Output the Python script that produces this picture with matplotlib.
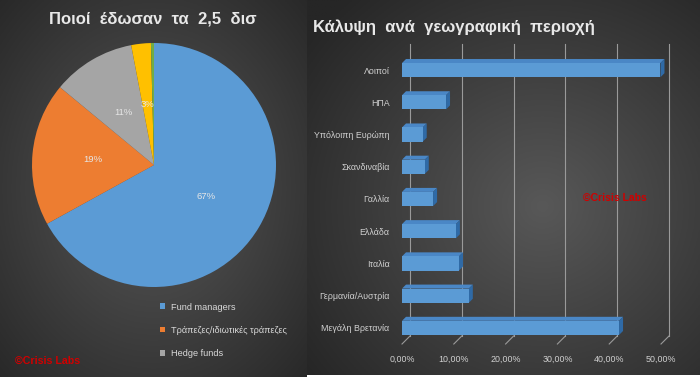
import numpy as np
import matplotlib
matplotlib.use("Agg")
import matplotlib.pyplot as plt
from matplotlib.patches import Polygon, Patch
from matplotlib.ticker import FuncFormatter

plt.rcParams['font.family'] = ['Liberation Sans', 'DejaVu Sans']

# --- data: pie ---
pie_labels = ['Fund managers', 'Τράπεζες/ιδιωτικές τράπεζες', 'Hedge funds', 'Άλλοι', 'Λοιποί']
pie_values = [67, 19, 11, 2.6, 0.4]
pie_texts = ['67%', '19%', '11%', '3%', '']
pie_colors = ['#5b9bd5', '#ed7d31', '#a5a5a5', '#ffc000', '#70ad47']

# --- data: bars (bottom to top) ---
regions = ['Μεγάλη Βρετανία', 'Γερμανία/Αυστρία', 'Ιταλία', 'Ελλάδα', 'Γαλλία',
           'Σκανδιναβία', 'Υπόλοιπη Ευρώπη', 'ΗΠΑ', 'Λοιποί']
shares = [0.419, 0.129, 0.110, 0.104, 0.060, 0.044, 0.040, 0.085, 0.499]
xticks = [0, 0.1, 0.2, 0.3, 0.4, 0.5]

W, H = 700, 377
fig = plt.figure(figsize=(W / 100, H / 100), dpi=100)
fig.patch.set_facecolor('white')


def bg_panel(x0, y0, x1, y1, center=(0.5, 0.5)):
    ax = fig.add_axes([x0 / W, 1 - y1 / H, (x1 - x0) / W, (y1 - y0) / H])
    yy, xx = np.mgrid[0:1:200j, 0:1:200j]
    r = np.sqrt((xx - center[0]) ** 2 + (yy - center[1]) ** 2)
    r = np.clip(r / 0.75, 0, 1)
    light, dark = 0x58, 0x26
    g = (light + (dark - light) * r) / 255.0
    img = np.dstack([g, g, g])
    ax.imshow(img, extent=[0, 1, 0, 1], aspect='auto', origin='lower')
    ax.set_axis_off()
    return ax


bg_panel(0, 0, 307, 377)
bg_panel(307, 0, 700, 375, center=(0.6, 0.45))

# ---------------- pie ----------------
cx, cy, rad = 154, 165, 122
pax = fig.add_axes([(cx - rad) / W, 1 - (cy + rad) / H, 2 * rad / W, 2 * rad / H])
wedges, texts = pax.pie(pie_values, colors=pie_colors, startangle=90, counterclock=False,
                        labels=pie_texts, labeldistance=0.5,
                        wedgeprops=dict(edgecolor='none', linewidth=0),
                        textprops=dict(color='#e6e6e6', fontsize=6.8, ha='center', va='center'))
pax.set_xlim(-1, 1)
pax.set_ylim(-1, 1)
pax.set_aspect('equal')

fig.text(153 / W, 1 - 19 / H, 'Ποιοί  έδωσαν  τα  2,5  δισ', ha='center', va='center',
         fontsize=12, fontweight='bold', color='#e8e8e8')

handles = [Patch(facecolor=pie_colors[i], edgecolor='none') for i in range(3)]
fig.legend(handles, pie_labels[:3], loc='upper left', bbox_to_anchor=(155 / W, 1 - 298 / H),
           frameon=False, fontsize=6.6, labelcolor='#d9d9d9', handlelength=0.6,
           handleheight=0.6, handletextpad=0.6, labelspacing=1.55, borderpad=0)

fig.text(15 / W, 1 - 361 / H, '©Crisis Labs', ha='left', va='center', fontsize=7.7,
         fontweight='bold', color='#d00000')

# ---------------- bars ----------------
ax_l, ax_r, ax_t, ax_b = 402, 661, 54, 344
ax = fig.add_axes([ax_l / W, 1 - ax_b / H, (ax_r - ax_l) / W, (ax_b - ax_t) / H])
ax.set_facecolor('none')
ax.set_xlim(0, 0.5)
ax.set_ylim(-0.5, len(regions) - 0.5)

px_x = 0.5 / (ax_r - ax_l)
px_y = len(regions) / (ax_b - ax_t)

# back wall gridlines with floor diagonals
gx, gy = 8 * px_x, 8 * px_y
for t in xticks:
    ax.plot([t + gx, t + gx], [-0.5 + gy, len(regions) - 0.5 + gy + 0.05], color='#9a9a9a',
            lw=0.8, clip_on=False, zorder=1)
    ax.plot([t, t + gx], [-0.5, -0.5 + gy], color='#9a9a9a', lw=0.8, clip_on=False, zorder=1)

bh = 0.44
dx, dy = 4 * px_x, 4 * px_y
pos = np.arange(len(regions))
ax.barh(pos, shares, height=bh, color='#5b9bd5', edgecolor='none', zorder=4)
for y, v in zip(pos, shares):
    top, bot = y + bh / 2, y - bh / 2
    ax.add_patch(Polygon([(0, top), (v, top), (v + dx, top + dy), (dx, top + dy)],
                         closed=True, facecolor='#4a87c6', edgecolor='none', zorder=3,
                         clip_on=False))
    ax.add_patch(Polygon([(v, bot), (v + dx, bot + dy), (v + dx, top + dy), (v, top)],
                         closed=True, facecolor='#2f6aa6', edgecolor='none', zorder=3,
                         clip_on=False))

ax.set_yticks(pos)
ax.set_yticklabels(regions)
ax.set_xticks(xticks)
ax.xaxis.set_major_formatter(FuncFormatter(lambda v, p: f"{v * 100:.2f}%".replace('.', ',')))
ax.tick_params(axis='both', length=0, colors='#d0d0d0', labelsize=6.4)
ax.tick_params(axis='y', pad=9)
ax.tick_params(axis='x', pad=8)
for s in ax.spines.values():
    s.set_visible(False)

fig.text(313 / W, 1 - 27 / H, 'Κάλυψη  ανά  γεωγραφική  περιοχή', ha='left', va='center',
         fontsize=12, fontweight='bold', color='#e8e8e8')

fig.text(615 / W, 1 - 198 / H, '©Crisis Labs', ha='center', va='center', fontsize=7.5,
         fontweight='bold', color='#d00000')

fig.savefig('out.png', dpi=100)
